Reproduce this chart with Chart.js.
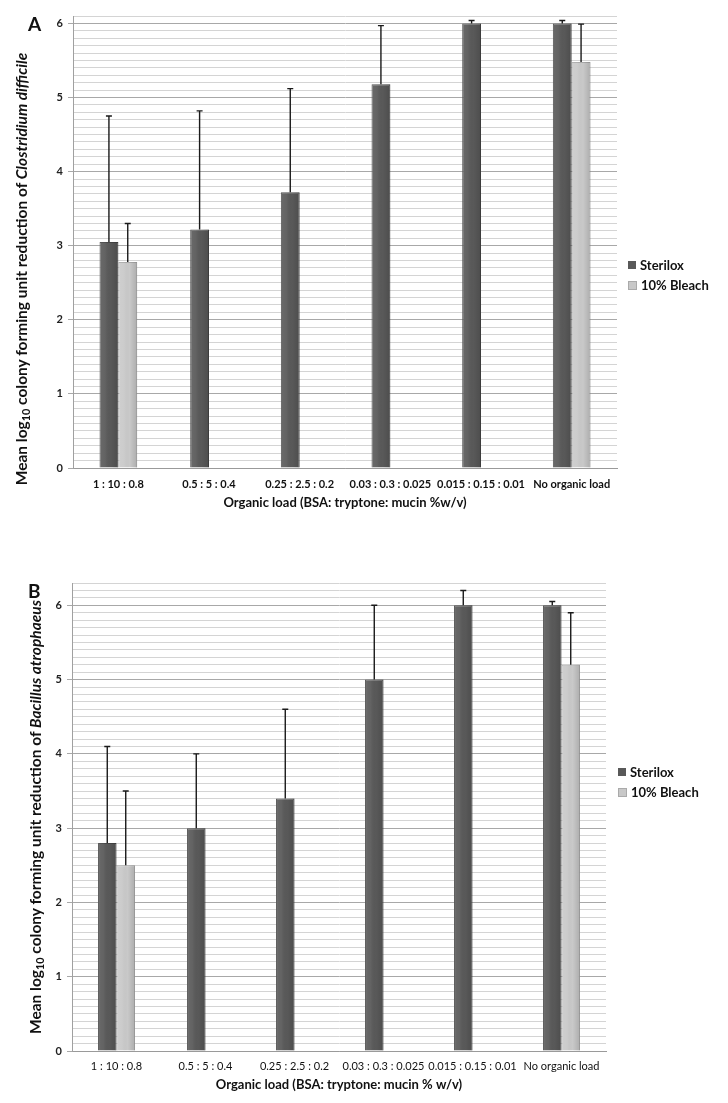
<!DOCTYPE html>
<html><head><meta charset="utf-8">
<script src="https://cdn.jsdelivr.net/npm/chart.js@4"></script>
<style>
body{margin:0;background:#fff;width:728px;height:1103px;position:relative;overflow:hidden;font-family:Lato,'Open Sans',sans-serif;color:#111;}
.cv{position:absolute;left:0;}
.panel{position:absolute;font-weight:bold;font-size:19px;line-height:1;}
.anchor{position:absolute;width:0;height:0;}
.ytitle{position:absolute;left:0;top:0;white-space:nowrap;font-weight:bold;font-size:15.5px;transform:translate(-50%,-50%) rotate(-90deg);}
.ytitle sub{font-size:70%;vertical-align:-0.25em;line-height:0;}
.legend{position:absolute;font-weight:bold;font-size:13px;}
.legend div{display:flex;align-items:center;height:20px;}
.sw{display:inline-block;width:8px;height:8px;margin-right:4px;}
</style></head>
<body>
<div class="cv" style="top:0;width:728px;height:530px"><canvas id="cA"></canvas></div>
<div class="cv" style="top:548px;width:728px;height:555px"><canvas id="cB"></canvas></div>
<div class="panel" style="left:28px;top:14px">A</div>
<div class="panel" style="left:28px;top:581px">B</div>
<div class="anchor" style="left:21px;top:269px"><div class="ytitle">Mean log<sub>10</sub> colony forming unit reduction of <i>Clostridium difficile</i></div></div>
<div class="anchor" style="left:35px;top:817px"><div class="ytitle">Mean log<sub>10</sub> colony forming unit reduction of <i>Bacillus atrophaeus</i></div></div>
<div class="legend" style="left:628px;top:255px"><div><span class="sw" style="background:#595959"></span>Sterilox</div><div><span class="sw" style="background:#c8c8c8;border:1px solid #aaa;width:7px;height:7px"></span>10% Bleach</div></div>
<div class="legend" style="left:618px;top:762px"><div><span class="sw" style="background:#595959"></span>Sterilox</div><div><span class="sw" style="background:#c8c8c8;border:1px solid #aaa;width:7px;height:7px"></span>10% Bleach</div></div>
<script>
// ---- data ----
const categories = ["1 : 10 : 0.8", "0.5 : 5 : 0.4", "0.25 : 2.5 : 0.2", "0.03 : 0.3 : 0.025", "0.015 : 0.15 : 0.01", "No organic load"];
const seriesNames = ["Sterilox", "10% Bleach"];
// Panel A: Clostridium difficile
const sterilaxA = [3.05, 3.22, 3.72, 5.18, 6.0, 6.0];
const sterilaxErrA = [1.70, 1.60, 1.40, 0.79, 0.04, 0.04];
const bleachA = [2.78, null, null, null, null, 5.48];
const bleachErrA = [0.52, null, null, null, null, 0.51];
// Panel B: Bacillus atrophaeus
const sterilaxB = [2.8, 3.0, 3.4, 5.0, 6.0, 6.0];
const sterilaxErrB = [1.3, 1.0, 1.2, 1.0, 0.2, 0.05];
const bleachB = [2.5, null, null, null, null, 5.2];
const bleachErrB = [1.0, null, null, null, null, 0.7];
const yMaxA = 6.1, yMaxB = 6.3;
const yStep = 0.1;
const xTitleA = "Organic load (BSA: tryptone: mucin %w/v)";
const xTitleB = "Organic load (BSA: tryptone: mucin % w/v)";

const FONT = "Lato, 'Open Sans', sans-serif";

const errorBars = {
  id: 'errorBars',
  afterDatasetsDraw(chart) {
    const ctx = chart.ctx, ys = chart.scales.y;
    ctx.save();
    chart.data.datasets.forEach((ds, i) => {
      const meta = chart.getDatasetMeta(i);
      meta.data.forEach((el, j) => {
        const v = ds.data[j], e = ds.errors[j];
        if (v == null || e == null) return;
        const p = el.getProps(['x', 'y', 'width', 'base'], true);
        // subtle cylinder shading
        const g = ctx.createLinearGradient(p.x - p.width / 2, 0, p.x + p.width / 2, 0);
        g.addColorStop(0, 'rgba(255,255,255,0.10)');
        g.addColorStop(0.3, 'rgba(255,255,255,0.06)');
        g.addColorStop(0.6, 'rgba(0,0,0,0)');
        g.addColorStop(1, 'rgba(0,0,0,0.14)');
        ctx.fillStyle = g;
        ctx.fillRect(p.x - p.width / 2, p.y, p.width, p.base - p.y);
        const top = ys.getPixelForValue(v + e);
        ctx.strokeStyle = '#1a1a1a';
        ctx.lineWidth = 1.4;
        ctx.beginPath();
        ctx.moveTo(p.x, p.y);
        ctx.lineTo(p.x, top);
        ctx.moveTo(p.x - 3, top);
        ctx.lineTo(p.x + 3, top);
        ctx.stroke();
      });
    });
    ctx.restore();
  }
};

function isInt(v) { return Math.abs(v - Math.round(v)) < 1e-6; }

function makeChart(id, s, sErr, b, bErr, yMax, xTitle, cfg) {
  return new Chart(document.getElementById(id), {
    type: 'bar',
    data: {
      labels: categories,
      datasets: [
        { label: seriesNames[0], data: s, errors: sErr, backgroundColor: '#595959', borderColor: '#454545', borderWidth: 1, categoryPercentage: 0.415, barPercentage: 1.0 },
        { label: seriesNames[1], data: b, errors: bErr, backgroundColor: '#c9c9c9', borderColor: '#a9a9a9', borderWidth: 1, categoryPercentage: 0.415, barPercentage: 1.0 }
      ]
    },
    options: {
      responsive: true,
      maintainAspectRatio: false,
      animation: false,
      devicePixelRatio: 1,
      layout: { padding: { left: 0, top: cfg.top, right: cfg.right, bottom: 0 } },
      plugins: { legend: { display: false }, tooltip: { enabled: false } },
      scales: {
        x: {
          grid: { display: false, drawTicks: false },
          border: { display: true, color: '#9a9a9a' },
          ticks: { color: '#111', font: { family: FONT, size: 11, weight: cfg.tickWeight }, padding: cfg.tickPad, maxRotation: 0, autoSkip: false },
          title: { display: true, text: xTitle, color: '#111', font: { family: FONT, size: 13, weight: 'bold' }, padding: { top: 0, bottom: cfg.titlePad } },
          afterFit(sc) { sc.height = cfg.xh; }
        },
        y: {
          min: 0, max: yMax,
          grid: {
            color: c => isInt(c.tick.value) ? '#a8a8a8' : '#d4d4d4',
            tickColor: c => isInt(c.tick.value) ? '#a8a8a8' : 'rgba(0,0,0,0)',
            tickLength: 5, lineWidth: 1
          },
          border: { display: true, color: '#a0a0a0' },
          ticks: {
            stepSize: yStep, autoSkip: false, padding: 5, color: '#222',
            font: { family: FONT, size: 11, weight: 'bold' },
            callback: v => isInt(v) ? String(Math.round(v)) : ''
          },
          afterFit(sc) { sc.width = cfg.yw; }
        }
      }
    },
    plugins: [errorBars]
  });
}

makeChart('cA', sterilaxA, sterilaxErrA, bleachA, bleachErrA, yMaxA, xTitleA,
  { top: 16, right: 111, xh: 62, yw: 73, tickPad: 10, titlePad: 19, tickWeight: 'bold' });
makeChart('cB', sterilaxB, sterilaxErrB, bleachB, bleachErrB, yMaxB, xTitleB,
  { top: 35, right: 122, xh: 52, yw: 72, tickPad: 9, titlePad: 10, tickWeight: 'normal' });
</script>
</body></html>
